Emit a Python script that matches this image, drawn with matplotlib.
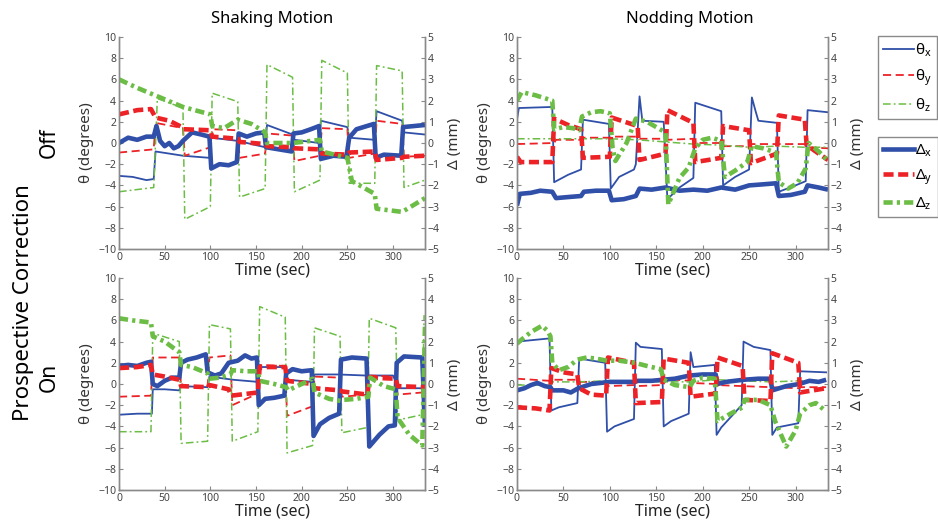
import numpy as np
import matplotlib
matplotlib.use('Agg')
import matplotlib.pyplot as plt
from matplotlib.lines import Line2D

plt.rcParams['font.family'] = ['Noto Sans', 'DejaVu Sans']
plt.rcParams['mathtext.fontset'] = 'dejavusans'
plt.rcParams['mathtext.default'] = 'regular'

# ---- data: (time in sec, value) pairs, theta in degrees, delta in mm ----
# Shaking motion, prospective correction off
shake_off_tx = [(0, -3.1), (15, -3.2), (30, -3.5), (38, -3.4), (40, -0.8), (70, -1.2), (99, -1.4), (101, 0.5),
                (130, 0.2), (160, -0.4), (162, 1.7), (190, 0.8), (192, 0.3), (219, 0.0), (221, 2.1), (250, 1.5),
                (252, 0.5), (280, 0.3), (282, 3.0), (310, 2.1), (312, 1.0), (335, 0.8)]
shake_off_ty = [(0, -0.9), (38, -0.6), (40, 1.9), (70, 1.4), (72, -1.2), (100, -0.4), (102, 1.3), (130, 1.2),
                (132, -1.4), (160, -1.0), (162, 0.9), (190, 0.7), (192, -1.7), (220, -1.2), (222, 1.4), (250, 1.3),
                (252, -1.4), (280, -1.0), (282, 2.1), (310, 1.8), (312, -1.3), (335, -1.2)]
shake_off_tz = [(0, -4.6), (38, -4.2), (42, 4.2), (70, 3.3), (72, -7.2), (100, -6.0), (102, 4.7), (130, 3.9),
                (132, -5.1), (160, -4.3), (162, 7.4), (190, 6.2), (192, -4.6), (220, -3.5), (222, 7.8), (250, 6.6),
                (252, -3.8), (280, -3.8), (282, 7.3), (310, 6.8), (312, -4.2), (335, -3.5)]
shake_off_dx = [(0, 0.0), (10, 0.25), (20, 0.15), (30, 0.3), (38, 0.3), (41, 0.8), (45, 0.1), (50, -0.15),
                (55, 0.0), (60, -0.25), (65, -0.15), (70, 0.1), (80, 0.5), (90, 0.4), (99, 0.3), (101, -1.2),
                (110, -1.0), (120, -1.05), (129, -0.9), (131, 0.45), (140, 0.3), (150, 0.45), (159, 0.5),
                (161, -0.2), (175, -0.3), (189, -0.4), (191, 0.45), (200, 0.5), (210, 0.65), (219, 0.8),
                (221, -0.75), (235, -0.6), (249, -0.65), (252, 0.25), (260, 0.65), (279, 0.9), (281, -0.7),
                (290, -0.55), (309, -0.6), (311, 0.75), (335, 0.85)]
shake_off_dy = [(0, 1.35), (20, 1.55), (35, 1.6), (40, 1.2), (55, 1.05), (69, 0.75), (71, 0.65), (100, 0.6),
                (102, 0.3), (130, 0.2), (132, 0.05), (160, -0.05), (162, -0.15), (190, -0.2), (192, -0.25),
                (220, -0.3), (222, -0.5), (250, -0.55), (252, -0.45), (280, -0.4), (282, -0.8), (310, -0.7),
                (312, -0.65), (335, -0.6)]
shake_off_dz = [(0, 3.0), (20, 2.6), (45, 2.15), (70, 1.7), (100, 1.35), (102, 0.8), (115, 0.7), (130, 1.1),
                (145, 0.9), (160, 0.5), (162, 0.0), (190, 0.0), (220, 0.15), (222, -0.4), (250, -0.7),
                (255, -1.8), (280, -2.4), (282, -3.1), (310, -3.25), (312, -3.2), (335, -2.6)]

# Nodding motion, prospective correction off
nod_off_tx = [(0, 2.2), (2, 3.3), (38, 3.4), (40, -3.7), (55, -3.0), (69, -2.5), (71, 2.2), (99, 1.8), (101, -4.3),
              (110, -3.2), (126, -2.5), (128, -2.0), (132, 4.4), (135, 2.1), (158, 2.0), (162, -5.3), (175, -4.2),
              (190, -3.3), (192, 3.8), (220, 3.0), (222, -4.0), (235, -3.2), (250, -2.5), (253, 4.3), (257, 3.0),
              (260, 2.1), (280, 1.9), (282, -4.6), (300, -4.0), (311, -3.6), (313, 3.1), (335, 2.9)]
nod_off_ty = [(0, -0.1), (40, 0.0), (42, 0.3), (70, 0.3), (72, 0.5), (100, 0.5), (102, 0.6), (130, 0.6),
              (132, 0.4), (160, 0.4), (162, 0.3), (190, 0.4), (192, 0.0), (220, 0.0), (222, -0.3), (250, -0.3),
              (252, -0.1), (310, -0.1), (312, -0.4), (335, -0.5)]
nod_off_tz = [(0, 0.4), (40, 0.4), (100, 0.4), (130, 0.3), (160, 0.1), (190, -0.1), (220, -0.2), (250, -0.4),
              (280, -0.3), (310, -0.4), (335, -0.4)]
nod_off_dx = [(0, -2.95), (3, -2.4), (15, -2.35), (25, -2.25), (38, -2.3), (42, -2.6), (55, -2.55), (69, -2.5),
              (72, -2.3), (85, -2.25), (99, -2.25), (102, -2.7), (115, -2.65), (128, -2.5), (132, -2.15),
              (145, -2.2), (160, -2.1), (175, -2.25), (190, -2.2), (205, -2.25), (220, -2.1), (235, -2.2),
              (250, -2.0), (265, -1.95), (279, -1.9), (282, -2.5), (295, -2.45), (310, -2.3), (313, -2.0),
              (325, -2.1), (335, -2.2)]
nod_off_dy = [(0, -0.65), (4, -0.9), (38, -0.9), (40, 1.15), (55, 0.85), (69, 0.65), (71, -0.7), (100, -0.65),
              (102, 1.2), (130, 0.8), (132, -0.8), (160, -0.5), (162, 1.55), (190, 0.95), (192, -0.9),
              (220, -0.7), (222, 0.8), (250, 0.6), (252, -0.95), (280, -0.5), (282, 1.3), (310, 1.1),
              (312, -0.1), (325, -0.5), (335, -0.8)]
nod_off_dz = [(0, 2.0), (5, 2.4), (20, 2.25), (38, 2.0), (40, 0.65), (50, 0.75), (60, 0.7), (67, 0.6), (70, 1.25),
              (80, 1.45), (90, 1.5), (100, 1.4), (103, -0.25), (106, -0.85), (118, 0.0), (128, 1.15), (140, 1.0),
              (150, 0.75), (160, 0.5), (163, -2.9), (175, -1.65), (185, -1.15), (192, -0.25), (200, 0.15),
              (210, 0.25), (220, 0.1), (224, -1.6), (235, -1.3), (248, -0.9), (253, -0.15), (265, -0.25),
              (279, -0.45), (282, -1.85), (292, -2.15), (302, -1.9), (311, -1.2), (314, 0.0), (325, -0.4),
              (335, -0.85)]

# Shaking motion, prospective correction on
shake_on_tx = [(0, -2.9), (20, -2.8), (36, -2.8), (37, -0.5), (50, -0.5), (66, -0.6), (68, -0.2), (97, -0.3),
               (99, 0.7), (125, 0.4), (152, 0.2), (154, 1.6), (182, 1.6), (184, 0.4), (212, 0.2), (214, 0.9),
               (240, 0.9), (270, 0.8), (300, 0.8), (306, -0.4), (335, -0.4)]
shake_on_ty = [(0, -1.2), (35, -1.1), (37, 2.5), (66, 2.5), (68, -0.3), (97, -0.2), (99, 2.5), (122, 2.7),
               (124, -2.0), (152, -0.9), (154, 1.8), (182, 1.7), (184, -3.0), (212, -2.1), (214, 0.7), (242, 0.6),
               (244, -1.2), (272, -1.0), (274, 0.8), (303, 0.7), (305, -1.0), (332, -0.8), (334, 1.2), (335, 1.2)]
shake_on_tz = [(0, -4.5), (35, -4.5), (37, 4.8), (66, 4.0), (68, -5.6), (97, -5.4), (99, 5.6), (122, 5.2),
               (124, -5.4), (152, -4.5), (154, 7.3), (182, 6.3), (184, -6.5), (212, -5.8), (214, 5.3), (242, 4.5),
               (244, -4.6), (272, -4.1), (274, 6.2), (303, 5.3), (305, -3.4), (332, -2.9), (334, 6.5)]
shake_on_dx = [(0, 0.85), (10, 0.9), (20, 0.85), (30, 1.0), (35, 1.05), (37, 0.0), (42, -0.1), (50, 0.15),
               (58, 0.3), (66, 0.3), (68, 1.0), (75, 1.15), (85, 1.25), (95, 1.4), (97, 0.55), (105, 0.4),
               (112, 0.5), (120, 1.0), (130, 1.1), (138, 1.35), (145, 1.2), (151, 1.25), (153, -1.0), (160, -0.7),
               (170, -0.65), (181, -0.55), (183, 0.5), (190, 0.7), (200, 0.6), (211, 0.65), (213, -2.45),
               (220, -1.9), (230, -1.6), (241, -1.4), (243, 1.15), (255, 1.25), (271, 1.2), (274, -2.95),
               (285, -2.4), (295, -2.0), (302, -1.95), (304, 1.0), (312, 1.3), (332, 1.25), (335, -2.0)]
shake_on_dy = [(0, 0.75), (20, 0.8), (35, 0.9), (37, 0.45), (50, 0.35), (66, 0.2), (68, -0.1), (97, -0.15),
               (99, -0.05), (120, -0.25), (123, -0.55), (152, -0.4), (154, 0.8), (182, 0.8), (184, 0.15),
               (212, 0.0), (214, -0.2), (242, -0.3), (244, -0.35), (272, -0.5), (274, 0.3), (303, 0.25),
               (305, -0.1), (335, -0.15)]
shake_on_dz = [(0, 3.1), (15, 3.0), (35, 2.9), (37, 2.25), (50, 2.0), (66, 1.5), (68, 0.9), (80, 0.8), (97, 0.5),
               (99, 0.25), (110, 0.3), (122, 0.45), (124, 0.65), (140, 0.6), (152, 0.6), (154, 0.15), (170, 0.0),
               (183, -0.15), (185, -0.3), (200, 0.0), (212, 0.25), (214, -0.4), (230, -0.7), (243, -0.8),
               (245, -0.75), (260, -0.7), (273, -0.6), (275, 0.3), (290, -0.1), (303, -0.25), (305, -1.6),
               (318, -2.4), (332, -2.9), (335, 2.75)]

# Nodding motion, prospective correction on
nod_on_tx = [(0, 4.0), (35, 4.3), (37, -2.5), (45, -2.2), (65, -1.8), (67, 2.4), (95, 2.0), (97, -4.5), (105, -4.0),
             (126, -3.3), (128, 3.9), (133, 3.5), (156, 3.3), (158, -4.0), (166, -3.5), (185, -2.8), (187, 3.0),
             (190, 1.6), (213, 1.8), (215, -4.8), (220, -4.1), (242, -2.0), (244, 4.0), (255, 3.5), (273, 3.2),
             (275, -4.8), (280, -4.1), (303, -3.7), (305, 1.2), (333, 1.1)]
nod_on_ty = [(0, 0.5), (35, 0.3), (37, 0.4), (65, 0.4), (67, 0.2), (96, 0.2), (98, -0.2), (126, -0.1), (128, -0.2),
             (156, -0.1), (158, 0.5), (186, 0.3), (188, 0.1), (214, 0.0), (216, -0.1), (243, -0.2), (273, -0.3),
             (304, -0.4), (306, -0.3), (333, -0.3)]
nod_on_tz = [(0, -0.1), (35, -0.1), (37, 0.2), (66, 0.2), (97, 0.3), (127, 0.3), (157, 0.2), (186, 0.2),
             (215, 0.4), (244, 0.3), (274, 0.2), (304, 0.3), (333, 0.2)]
nod_on_dx = [(0, -0.3), (8, -0.2), (15, -0.05), (22, 0.05), (30, -0.1), (36, -0.15), (38, -0.3), (50, -0.3),
             (58, -0.4), (66, -0.2), (80, 0.0), (100, 0.1), (127, 0.1), (130, 0.15), (145, 0.15), (157, 0.2),
             (170, 0.25), (186, 0.4), (200, 0.45), (214, 0.45), (216, 0.0), (225, 0.1), (244, 0.2), (260, 0.25),
             (273, 0.25), (275, -0.3), (290, -0.1), (304, 0.0), (315, 0.15), (325, 0.1), (333, 0.2)]
nod_on_dy = [(0, -1.1), (20, -1.15), (35, -1.25), (37, 0.75), (50, 0.55), (65, 0.45), (67, -0.2), (80, -0.5),
             (96, -0.55), (98, 1.25), (126, 1.0), (128, -0.9), (156, -0.85), (158, 1.2), (185, 1.0), (187, -0.6),
             (214, -0.45), (216, 1.25), (243, 0.85), (245, -0.75), (273, -0.8), (275, 1.45), (303, 1.0),
             (305, -0.4), (333, -0.2)]
nod_on_dz = [(0, 1.9), (5, 2.1), (15, 2.45), (27, 2.75), (33, 2.5), (36, 2.25), (38, 1.0), (45, 0.65), (55, 0.8),
             (65, 1.15), (75, 1.25), (85, 1.2), (97, 1.1), (110, 1.1), (127, 1.0), (140, 0.85), (155, 0.7),
             (158, 0.2), (170, -0.05), (186, -0.15), (190, 0.15), (200, 0.3), (213, 0.25), (216, -1.75),
             (230, -1.4), (243, -1.1), (245, -0.75), (260, -0.75), (273, -1.0), (278, -1.75), (290, -2.95),
             (300, -2.2), (305, -1.4), (315, -1.0), (322, -0.9), (333, -1.3)]

panels = [
    ([shake_off_tx, shake_off_ty, shake_off_tz], [shake_off_dx, shake_off_dy, shake_off_dz]),
    ([nod_off_tx, nod_off_ty, nod_off_tz], [nod_off_dx, nod_off_dy, nod_off_dz]),
    ([shake_on_tx, shake_on_ty, shake_on_tz], [shake_on_dx, shake_on_dy, shake_on_dz]),
    ([nod_on_tx, nod_on_ty, nod_on_tz], [nod_on_dx, nod_on_dy, nod_on_dz]),
]

# styles: thin lines = rotations (left axis), thick lines = translations (right axis)
blue, red, green = '#2f4fa8', '#ec2227', '#6cbd45'
thin = [dict(color=blue, lw=1.3, ls='-'),
        dict(color=red, lw=1.3, ls=(0, (4.5, 2.5))),
        dict(color=green, lw=1.1, ls=(0, (5, 2, 1.2, 2)))]
thick = [dict(color=blue, lw=3.3, ls='-'),
         dict(color=red, lw=3.3, ls=(0, (2.2, 1.0))),
         dict(color=green, lw=3.3, ls=(0, (2.0, 0.9, 0.7, 0.9)))]

W, H = 938, 523
fig = plt.figure(figsize=(W / 100, H / 100), dpi=100)

# axes boxes in pixels: left, top, right, bottom
boxes = [(119, 37, 425, 249), (517, 37, 828, 249), (119, 278, 425, 490), (517, 278, 828, 490)]
spine_col = '#8a8a8a'

for (th, de), (l, t, r, b) in zip(panels, boxes):
    ax = fig.add_axes([l / W, 1 - b / H, (r - l) / W, (b - t) / H])
    ax2 = ax.twinx()
    for s, st in zip(th, thin):
        arr = np.array(s)
        ax.plot(arr[:, 0], arr[:, 1], **st)
    for s, st in zip(de, thick):
        arr = np.array(s)
        ax2.plot(arr[:, 0], arr[:, 1], solid_capstyle='butt', dash_capstyle='butt', **st)
    ax.set_xlim(0, 335)
    ax.set_ylim(-10, 10)
    ax2.set_ylim(-5, 5)
    ax.set_xticks(range(0, 301, 50))
    ax.set_yticks(range(-10, 11, 2))
    ax2.set_yticks(range(-5, 6, 1))
    for a in (ax, ax2):
        a.spines['top'].set_visible(False)
        for sp in ('left', 'right', 'bottom'):
            a.spines[sp].set_color(spine_col)
            a.spines[sp].set_linewidth(1.0)
        a.tick_params(direction='in', length=3, width=0.8, color=spine_col,
                      labelsize=7.5, labelcolor='#444444', pad=2)
    ax.set_xlabel('Time (sec)', fontsize=11.5, labelpad=0, color='#222222')
    ax.set_ylabel('θ (degrees)', fontsize=11, labelpad=3, color='#333333')
    ax2.set_ylabel('Δ (mm)', fontsize=11, labelpad=5, color='#333333')

# column titles and row labels
fig.text(272 / W, 1 - 19 / H, 'Shaking Motion', ha='center', va='center', fontsize=12)
fig.text(690 / W, 1 - 19 / H, 'Nodding Motion', ha='center', va='center', fontsize=12)
fig.text(23 / W, 1 - 303 / H, 'Prospective Correction', rotation=90, ha='center', va='center', fontsize=16)
fig.text(49 / W, 1 - 143 / H, 'Off', rotation=90, ha='center', va='center', fontsize=15)
fig.text(49 / W, 1 - 377 / H, 'On', rotation=90, ha='center', va='center', fontsize=15)

# legends
h1 = [Line2D([], [], **st) for st in thin]
h2 = [Line2D([], [], **st) for st in thick]
kw = dict(loc='upper left', fontsize=11, handlelength=2.0, handletextpad=0.1, borderpad=0.35,
          labelspacing=0.55, fancybox=False, framealpha=1, edgecolor='#8a8a8a', borderaxespad=0)
leg1 = fig.legend(h1, [r'$\theta_x$', r'$\theta_y$', r'$\theta_z$'], bbox_to_anchor=(878 / W, 1 - 36 / H), **kw)
leg1.get_frame().set_linewidth(1.0)
leg2 = fig.legend(h2, [r'$\Delta_x$', r'$\Delta_y$', r'$\Delta_z$'], bbox_to_anchor=(878 / W, 1 - 137 / H), **kw)
leg2.get_frame().set_linewidth(1.0)

fig.savefig('out.png', dpi=100)
